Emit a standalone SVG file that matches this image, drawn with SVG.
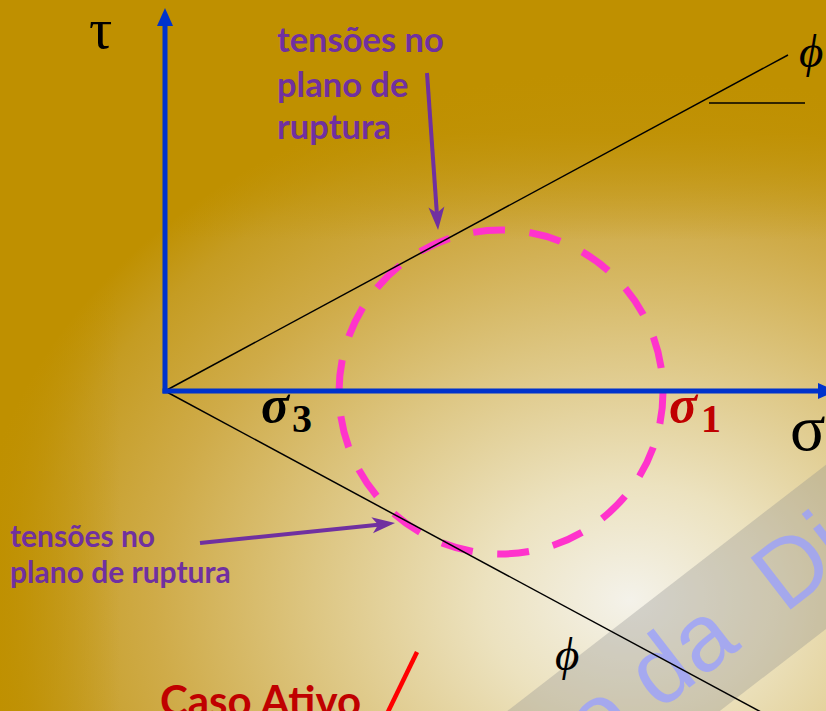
<svg xmlns="http://www.w3.org/2000/svg" width="826" height="711" viewBox="0 0 826 711">
  <style>
    .blk { stroke:#000; stroke-width:1.5; fill:none; }
    .axis { stroke:#0033cc; stroke-width:5; fill:none; }
    .pur { stroke:#7030a0; stroke-width:4; fill:none; marker-end:url(#ah); }
    .lbl { font-family:Lato,"Open Sans","Liberation Sans",sans-serif; font-weight:bold; fill:#7030a0; }
    .greek { font-family:"Liberation Serif","DejaVu Serif",serif; }
  </style>
  <defs>
    <radialGradient id="bg" gradientUnits="userSpaceOnUse" cx="630" cy="600" r="660" gradientTransform="translate(630 600) scale(1 0.8) translate(-630 -600)">
      <stop offset="0" stop-color="#f4f2ea"/>
      <stop offset="0.22" stop-color="#ece2bf"/>
      <stop offset="0.48" stop-color="#ddc682"/>
      <stop offset="0.72" stop-color="#cfab48"/>
      <stop offset="0.9" stop-color="#c59c22"/>
      <stop offset="1" stop-color="#bf9000"/>
    </radialGradient>
    <linearGradient id="top" x1="0" y1="0" x2="0" y2="240" gradientUnits="userSpaceOnUse">
      <stop offset="0" stop-color="#bf9000" stop-opacity="1"/>
      <stop offset="0.55" stop-color="#bf9000" stop-opacity="0.85"/>
      <stop offset="1" stop-color="#bf9000" stop-opacity="0"/>
    </linearGradient>
    <linearGradient id="left" x1="0" y1="0" x2="120" y2="0" gradientUnits="userSpaceOnUse">
      <stop offset="0" stop-color="#bf9000" stop-opacity="0.9"/>
      <stop offset="1" stop-color="#bf9000" stop-opacity="0"/>
    </linearGradient>
    <marker id="ah" markerUnits="userSpaceOnUse" viewBox="-24 -9 26 18" refX="-12" refY="0" markerWidth="26" markerHeight="18" orient="auto">
      <path d="M0,0 L-23,-8 L-17,0 L-23,8 Z" fill="#7030a0"/>
    </marker>
  </defs>

  <g id="background">
    <rect x="0" y="0" width="826" height="711" fill="url(#bg)"/>
    <rect x="0" y="0" width="826" height="240" fill="url(#top)"/>
    <rect x="0" y="0" width="120" height="711" fill="url(#left)"/>
  </g>

  <g id="watermark" transform="translate(790 610) rotate(-37.7)">
    <rect x="-1200" y="-93" width="2400" height="130" fill="#8c8c8c" opacity="0.32"/>
    <text x="-245" y="0" font-family="'Liberation Sans',Arial,sans-serif" font-size="95" fill="#9aa0ff" opacity="0.78">o da <tspan x="-7">Di</tspan></text>
  </g>

  <g id="mohr-circle">
    <circle cx="501" cy="392" r="162" fill="none" stroke="#ff33cc" stroke-width="7" stroke-dasharray="32 24.55"/>
  </g>

  <g id="connectors">
    <line class="blk" x1="165" y1="391" x2="788" y2="55"/>
    <line class="blk" x1="165" y1="391" x2="800" y2="733"/>
    <line class="blk" x1="709" y1="103" x2="805" y2="103"/>
    <line class="blk" x1="453" y1="390.5" x2="515" y2="390.5"/>
    <line x1="417" y1="652" x2="385" y2="718" stroke="#ff0000" stroke-width="4.5"/>
    <line class="pur" x1="427" y1="73" x2="437.2" y2="218"/>
    <line class="pur" x1="200" y1="543" x2="383.1" y2="524.2"/>
  </g>

  <g id="axes">
    <line class="axis" x1="165" y1="393.5" x2="165" y2="24"/>
    <polygon points="157,26 165,8 173,26" fill="#0033cc"/>
    <line class="axis" x1="162.5" y1="391" x2="820" y2="391"/>
    <polygon points="818,383 836,391 818,399" fill="#0033cc"/>
  </g>

  <g id="label-tau"><text class="greek" x="89" y="48" font-size="58">τ</text></g>
  <g id="label-sigma"><text class="greek" x="790" y="450" font-size="66">σ</text></g>
  <g id="label-phi-top"><text class="greek" x="799" y="67" font-size="47" font-style="italic">ϕ</text></g>
  <g id="label-phi-bottom"><text class="greek" x="555" y="670" font-size="47" font-style="italic">ϕ</text></g>
  <g id="label-sigma3"><text class="greek" font-weight="bold" fill="#000"><tspan x="261" y="422" font-size="52" font-style="italic">σ</tspan><tspan x="292" y="432" font-size="40">3</tspan></text></g>
  <g id="label-sigma1"><text class="greek" font-weight="bold" fill="#c00000"><tspan x="669" y="422" font-size="52" font-style="italic">σ</tspan><tspan x="701" y="432" font-size="40">1</tspan></text></g>

  <g id="label-upper-plane">
    <text class="lbl" font-size="34.5"><tspan x="277" y="52">tensões no</tspan><tspan x="277" y="97">plano de</tspan><tspan x="277" y="139">ruptura</tspan></text>
  </g>
  <g id="label-lower-plane">
    <text class="lbl" font-size="30"><tspan x="10" y="547">tensões no</tspan><tspan x="10" y="583">plano de ruptura</tspan></text>
  </g>
  <g id="label-caso-ativo">
    <text x="160" y="716" font-family="Lato,'Open Sans','Liberation Sans',sans-serif" font-weight="bold" font-size="42" fill="#c00000">Caso Ativo</text>
  </g>
</svg>
